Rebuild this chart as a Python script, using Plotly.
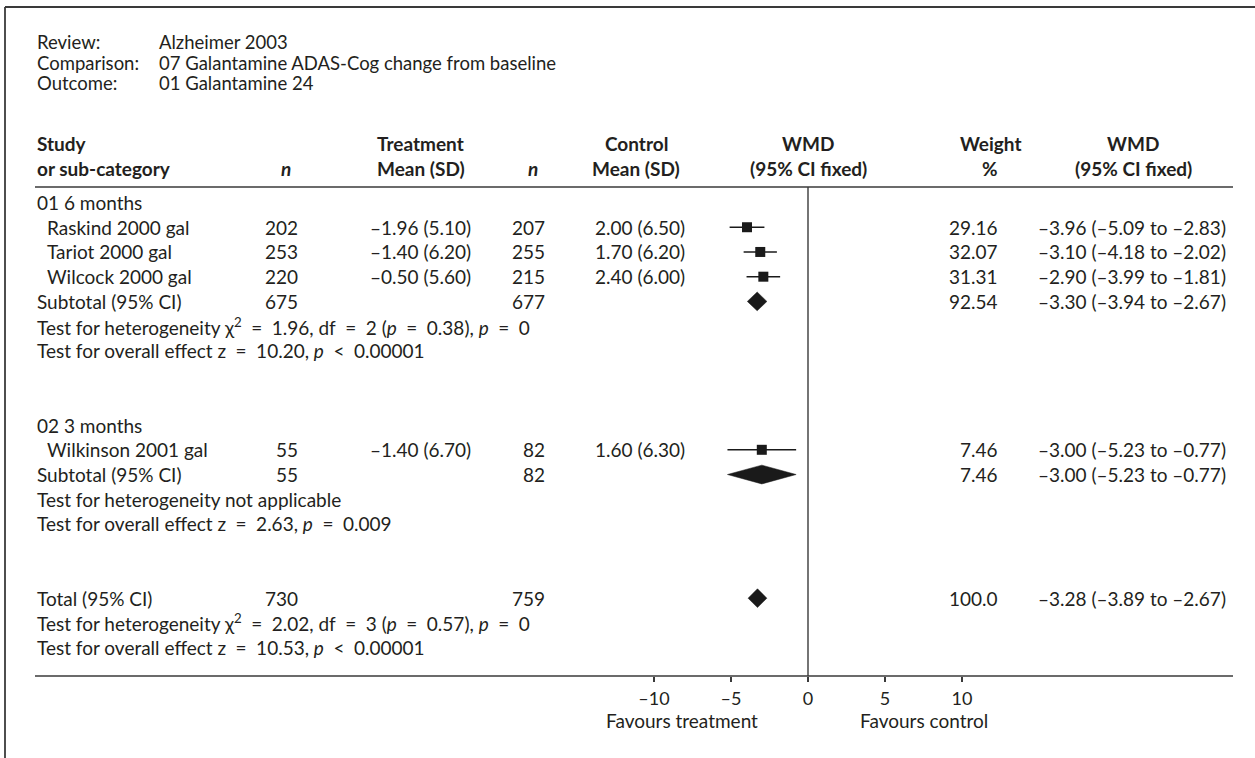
import plotly.graph_objects as go

W, H = 1255, 758

# ---------------- data ----------------
review = "Alzheimer 2003"
comparison = "07 Galantamine ADAS-Cog change from baseline"
outcome = "01 Galantamine 24"

group_names = ["01 6 months", "02 3 months"]
group_of_study = [0, 0, 0, 1]
studies = ["Raskind 2000 gal", "Tariot 2000 gal", "Wilcock 2000 gal", "Wilkinson 2001 gal"]
n_t = [202, 253, 220, 55]
mean_t = [-1.96, -1.40, -0.50, -1.40]
sd_t = [5.10, 6.20, 5.60, 6.70]
n_c = [207, 255, 215, 82]
mean_c = [2.00, 1.70, 2.40, 1.60]
sd_c = [6.50, 6.20, 6.00, 6.30]
weight = [29.16, 32.07, 31.31, 7.46]
wmd = [-3.96, -3.10, -2.90, -3.00]
wmd_lo = [-5.09, -4.18, -3.99, -5.23]
wmd_hi = [-2.83, -2.02, -1.81, -0.77]

sub_n_t = [675, 55]
sub_n_c = [677, 82]
sub_weight = [92.54, 7.46]
sub_wmd = [-3.30, -3.00]
sub_lo = [-3.94, -5.23]
sub_hi = [-2.67, -0.77]
sub_het = ["Test for heterogeneity χ<sup>2</sup> = 1.96, df = 2 (<i>p</i> = 0.38), <i>p</i> = 0",
           "Test for heterogeneity not applicable"]
sub_overall = ["Test for overall effect z = 10.20, <i>p</i> &lt; 0.00001",
               "Test for overall effect z = 2.63, <i>p</i> = 0.009"]

tot_n_t, tot_n_c, tot_weight = 730, 759, 100.0
tot_wmd, tot_lo, tot_hi = -3.28, -3.89, -2.67
tot_het = "Test for heterogeneity χ<sup>2</sup> = 2.02, df = 3 (<i>p</i> = 0.57), <i>p</i> = 0"
tot_overall = "Test for overall effect z = 10.53, <i>p</i> &lt; 0.00001"

tick_vals = [-10, -5, 0, 5, 10]
tick_text = ["–10", "–5", "0", "5", "10"]
left_label = "Favours treatment"
right_label = "Favours control"

# ---------------- layout helpers ----------------
FONT = "Lato"
FS = 19
TXT = "#231f20"
LINE = "#3a3a3a"

ROW0_PX = 202.5
ROW_H = 24.73
PX_PER_UNIT = 15.4
ZERO_PX = 808.0
EN = "&#8194;"


def px(x):
    return x / W


def py(y):
    return 1 - y / H


def math_spacing(s):
    # wider spacing around relation signs, as in the typeset original
    return s.replace(" = ", f"{EN}={EN}").replace(" &lt; ", f"{EN}&lt;{EN}")


def fmt(v, d=2):
    return f"{v:.{d}f}".replace("-", "–")


def ci_txt(m, lo, hi):
    return f"{fmt(m)} ({fmt(lo)} to {fmt(hi)})"


def wfmt(w):
    return f"{w:.1f}" if w >= 100 else f"{w:.2f}"


annotations = []


def text(x, y, s, anchor="left", yref="y", bold=False, size=FS):
    if bold:
        s = f"<b>{s}</b>"
    annotations.append(dict(x=px(x), y=y, xref="paper", yref=yref, text=s,
                            showarrow=False, xanchor=anchor, yanchor="middle",
                            font=dict(family=FONT, size=size, color=TXT)))


# column positions (pixels)
X_LEFT, X_INDENT = 35, 45
X_NT, X_MT, X_NC, X_MC = 300, 473, 547, 687
X_W, X_CI = 1000, 1228

r = 0
study_rows, sub_rows = [], []
for g, gname in enumerate(group_names):
    text(X_LEFT, r, gname)
    r += 1
    for i, s in enumerate(studies):
        if group_of_study[i] != g:
            continue
        study_rows.append((i, r))
        r += 1
    sub_rows.append((g, r))
    r += 1
    text(X_LEFT, r, math_spacing(sub_het[g])); r += 1
    text(X_LEFT, r, math_spacing(sub_overall[g])); r += 1
    r += 2
tot_row = r
text(X_LEFT, tot_row + 1, math_spacing(tot_het))
text(X_LEFT, tot_row + 2, math_spacing(tot_overall))

for i, rr in study_rows:
    text(X_INDENT, rr, studies[i])
    text(X_NT, rr, str(n_t[i]), "right")
    text(X_MT, rr, f"{fmt(mean_t[i])} ({sd_t[i]:.2f})", "right")
    text(X_NC, rr, str(n_c[i]), "right")
    text(X_MC, rr, f"{fmt(mean_c[i])} ({sd_c[i]:.2f})", "right")
    text(X_W, rr, wfmt(weight[i]), "right")
    text(X_CI, rr, ci_txt(wmd[i], wmd_lo[i], wmd_hi[i]), "right")

for g, rr in sub_rows:
    text(X_LEFT, rr, "Subtotal (95% CI)")
    text(X_NT, rr, str(sub_n_t[g]), "right")
    text(X_NC, rr, str(sub_n_c[g]), "right")
    text(X_W, rr, wfmt(sub_weight[g]), "right")
    text(X_CI, rr, ci_txt(sub_wmd[g], sub_lo[g], sub_hi[g]), "right")

text(X_LEFT, tot_row, "Total (95% CI)")
text(X_NT, tot_row, str(tot_n_t), "right")
text(X_NC, tot_row, str(tot_n_c), "right")
text(X_W, tot_row, wfmt(tot_weight), "right")
text(X_CI, tot_row, ci_txt(tot_wmd, tot_lo, tot_hi), "right")

# header block (tight leading, as in the original)
X_VAL = 157
HFS = 18.5
text(X_LEFT, py(42.5), "Review:", yref="paper", size=HFS)
text(X_VAL, py(42.5), review, yref="paper", size=HFS)
text(X_LEFT, py(62.5), "Comparison:", yref="paper", size=HFS)
text(X_VAL, py(62.5), comparison, yref="paper", size=HFS)
text(X_LEFT, py(83), "Outcome:", yref="paper", size=HFS)
text(X_VAL, py(83), outcome, yref="paper", size=HFS)

H1, H2 = 143, 168
text(X_LEFT, py(H1), "Study", yref="paper", bold=True)
text(X_LEFT, py(H2), "or sub-category", yref="paper", bold=True)
text(286, py(H2), "<i>n</i>", "center", yref="paper", bold=True)
text(420, py(H1), "Treatment", "center", yref="paper", bold=True)
text(421, py(H2), "Mean (SD)", "center", yref="paper", bold=True)
text(533, py(H2), "<i>n</i>", "center", yref="paper", bold=True)
text(636, py(H1), "Control", "center", yref="paper", bold=True)
text(636, py(H2), "Mean (SD)", "center", yref="paper", bold=True)
text(808, py(H1), "WMD", "center", yref="paper", bold=True)
text(808, py(H2), "(95% CI fixed)", "center", yref="paper", bold=True)
text(990, py(H1), "Weight", "center", yref="paper", bold=True)
text(990, py(H2), "%", "center", yref="paper", bold=True)
text(1133, py(H1), "WMD", "center", yref="paper", bold=True)
text(1133, py(H2), "(95% CI fixed)", "center", yref="paper", bold=True)

# favours labels
text(760, py(720), left_label, "right", yref="paper")
text(858, py(720), right_label, "left", yref="paper")

# ---------------- traces ----------------
fig = go.Figure()
s_rows = [rr for _, rr in study_rows]
s_idx = [i for i, _ in study_rows]
fig.add_trace(go.Scatter(
    x=[wmd[i] for i in s_idx], y=s_rows, mode="markers",
    marker=dict(symbol="square", size=10, color="#1a1a1a", line=dict(width=0)),
    error_x=dict(type="data", symmetric=False,
                 array=[wmd_hi[i] - wmd[i] for i in s_idx],
                 arrayminus=[wmd[i] - wmd_lo[i] for i in s_idx],
                 width=0, thickness=1.5, color="#1a1a1a"),
    showlegend=False, hoverinfo="skip"))

DH = 0.38
diamonds = [(sub_wmd[g], sub_lo[g], sub_hi[g], rr) for g, rr in sub_rows]
diamonds.append((tot_wmd, tot_lo, tot_hi, tot_row))
for m, lo, hi, rr in diamonds:
    fig.add_trace(go.Scatter(
        x=[lo, m, hi, m, lo], y=[rr, rr - DH, rr, rr + DH, rr],
        mode="lines", fill="toself", fillcolor="#1a1a1a",
        line=dict(width=0.5, color="#1a1a1a"), showlegend=False, hoverinfo="skip"))

# ---------------- shapes ----------------
AXIS_Y = 676
RULE_Y = 187
shapes = [
    dict(type="line", xref="paper", yref="paper", x0=px(5), x1=1.0, y0=py(7), y1=py(7),
         line=dict(color=LINE, width=1.8)),
    dict(type="line", xref="paper", yref="paper", x0=px(5), x1=px(5), y0=0, y1=py(7),
         line=dict(color=LINE, width=1.8)),
    dict(type="line", xref="paper", yref="paper", x0=px(35), x1=px(1233), y0=py(RULE_Y), y1=py(RULE_Y),
         line=dict(color=LINE, width=1.6)),
    dict(type="line", xref="paper", yref="paper", x0=px(35), x1=px(1233), y0=py(AXIS_Y), y1=py(AXIS_Y),
         line=dict(color=LINE, width=1.6)),
    dict(type="line", xref="x", yref="paper", x0=0, x1=0, y0=py(AXIS_Y), y1=py(RULE_Y),
         line=dict(color=LINE, width=1.4)),
]

fig.update_layout(
    width=W, height=H, margin=dict(l=0, r=0, t=0, b=0),
    paper_bgcolor="white", plot_bgcolor="rgba(0,0,0,0)",
    annotations=annotations, shapes=shapes, hovermode=False, dragmode=False,
    xaxis=dict(domain=[0, 1],
               range=[-ZERO_PX / PX_PER_UNIT, (W - ZERO_PX) / PX_PER_UNIT],
               anchor="free", position=(H - AXIS_Y) / H, fixedrange=True,
               tickvals=tick_vals, ticktext=tick_text, ticks="outside", ticklen=5,
               tickwidth=1.3, tickcolor=LINE, showline=False, showgrid=False, zeroline=False,
               tickfont=dict(family=FONT, size=18, color=TXT), ticklabelstandoff=1),
    yaxis=dict(domain=[0, 1], fixedrange=True,
               range=[(H - ROW0_PX) / ROW_H, -ROW0_PX / ROW_H],
               visible=False, showgrid=False, zeroline=False),
)

fig.write_html(
    "out.html",
    config={"displayModeBar": False, "staticPlot": True},
    post_script="document.body.style.margin='0px';"
                "document.documentElement.style.overflow='hidden';",
)
